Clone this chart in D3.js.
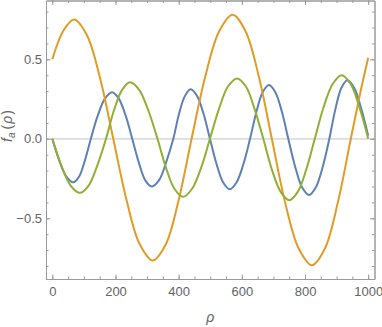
<!DOCTYPE html>
<html>
<head>
<meta charset="utf-8">
<script src="https://cdn.jsdelivr.net/npm/d3@7"></script>
<style>
  body { margin: 0; background: #fff; }
  text { font-family: "Liberation Sans", sans-serif; }
</style>
</head>
<body>
<div id="chart"></div>
<script>
// values: [rho, f_a]
const blueSeries = [
  [0, 0], [22, -0.137], [44, -0.237], [66, -0.274], [85, -0.237], [103, -0.137], [122, 0],
  [144, 0.147], [167, 0.254], [189, 0.293], [210, 0.254], [232, 0.147], [253, 0],
  [274, -0.15], [294, -0.26], [315, -0.30], [338, -0.26], [360, -0.15], [383, 0],
  [401, 0.156], [420, 0.27], [438, 0.311], [458, 0.27], [479, 0.156], [499, 0],
  [520, -0.159], [541, -0.275], [562, -0.318], [583, -0.275], [605, -0.159], [626, 0],
  [646, 0.169], [666, 0.293], [686, 0.338], [706, 0.293], [727, 0.169], [747, 0],
  [769, -0.177], [791, -0.307], [813, -0.354], [834, -0.307], [856, -0.177], [877, 0],
  [896, 0.185], [915, 0.32], [934, 0.369], [956, 0.32], [978, 0.19], [1000, 0.02]
];

const orangeSeries = [
  [0, 0.5], [35, 0.68], [69, 0.75], [110, 0.65], [152, 0.375], [193, 0],
  [235, -0.385], [276, -0.66], [318, -0.765], [359, -0.665], [400, -0.385], [441, 0],
  [484, 0.39], [528, 0.675], [571, 0.78], [612, 0.675], [654, 0.39], [695, 0],
  [737, -0.4], [780, -0.69], [822, -0.795], [863, -0.69], [904, -0.4], [945, 0],
  [975, 0.29], [1000, 0.51]
];

const greenSeries = [
  [0, 0], [29, -0.17], [58, -0.294], [87, -0.34], [115, -0.294], [142, -0.17], [170, 0],
  [195, 0.178], [221, 0.308], [246, 0.356], [275, 0.308], [304, 0.178], [333, 0],
  [360, -0.183], [387, -0.316], [414, -0.365], [442, -0.316], [471, -0.183], [499, 0],
  [528, 0.19], [556, 0.329], [585, 0.38], [613, 0.329], [640, 0.19], [668, 0],
  [695, -0.193], [723, -0.334], [750, -0.386], [777, -0.334], [804, -0.193], [831, 0],
  [859, 0.2], [888, 0.346], [916, 0.40], [944, 0.346], [972, 0.2], [1000, 0]
];

const xTicks = [0, 200, 400, 600, 800, 1000];
const yTicks = [-0.5, 0, 0.5];
const xMinorTicks = d3.range(0, 1001, 50);
const yMinorTicks = [-0.8, -0.7, -0.6, -0.5, -0.4, -0.3, -0.2, -0.1, 0, 0.1, 0.2, 0.3, 0.4, 0.5, 0.6, 0.7, 0.8];

function buildPlot() {
    let dimensions = {
        width: 382,
        height: 327,
        margin: { top: 0.5, right: 7.5, bottom: 48, left: 46 }
    };
    dimensions.boundedWidth = dimensions.width - dimensions.margin.left - dimensions.margin.right;
    dimensions.boundedHeight = dimensions.height - dimensions.margin.top - dimensions.margin.bottom;

    const svg = d3.select("#chart")
        .append("svg")
        .attr("width", dimensions.width)
        .attr("height", dimensions.height);

    const g = svg.append("g")
        .attr("transform", "translate(" + dimensions.margin.left + "," + dimensions.margin.top + ")");

    const x = d3.scaleLinear()
        .domain([-20, 1020])
        .range([0, dimensions.boundedWidth]);

    const y = d3.scaleLinear()
        .domain([-0.882, 0.87])
        .range([dimensions.boundedHeight, 0]);

    const frameColor = "#9a9a9a";
    const labelColor = "#646464";

    // zero line
    g.append("line")
        .attr("x1", 0).attr("x2", dimensions.boundedWidth)
        .attr("y1", y(0)).attr("y2", y(0))
        .attr("stroke", "#d0d0d0")
        .attr("stroke-width", 1.2);

    // curves
    const line = d3.line()
        .x(d => x(d[0]))
        .y(d => y(d[1]))
        .curve(d3.curveCatmullRom.alpha(0.5));

    const series = [
        { data: blueSeries, color: "#5e81b5" },
        { data: orangeSeries, color: "#e19c24" },
        { data: greenSeries, color: "#8fb032" }
    ];
    series.forEach(s => {
        g.append("path")
            .datum(s.data)
            .attr("fill", "none")
            .attr("stroke", s.color)
            .attr("stroke-width", 2)
            .attr("stroke-linejoin", "round")
            .attr("d", line);
    });

    function styleAxis(sel) {
        sel.select(".domain").attr("stroke", frameColor);
        sel.selectAll(".tick line").attr("stroke", frameColor);
        sel.selectAll(".tick text")
            .attr("fill", labelColor)
            .style("font-size", "13px");
    }

    // bottom
    g.append("g")
        .attr("transform", "translate(0," + dimensions.boundedHeight + ")")
        .call(d3.axisBottom(x).tickValues(xMinorTicks).tickSize(-2.5).tickSizeOuter(0).tickFormat(""))
        .call(styleAxis);
    g.append("g")
        .attr("transform", "translate(0," + dimensions.boundedHeight + ")")
        .call(d3.axisBottom(x).tickValues(xTicks).tickSize(-4.5).tickSizeOuter(0).tickPadding(8).tickFormat(d3.format("d")))
        .call(styleAxis);

    // top
    g.append("g")
        .call(d3.axisTop(x).tickValues(xMinorTicks).tickSize(-2.5).tickSizeOuter(0).tickFormat(""))
        .call(styleAxis);
    g.append("g")
        .call(d3.axisTop(x).tickValues(xTicks).tickSize(-4.5).tickSizeOuter(0).tickFormat(""))
        .call(styleAxis);

    // left
    g.append("g")
        .call(d3.axisLeft(y).tickValues(yMinorTicks).tickSize(-2.5).tickSizeOuter(0).tickFormat(""))
        .call(styleAxis);
    g.append("g")
        .call(d3.axisLeft(y).tickValues(yTicks).tickSize(-4.5).tickSizeOuter(0).tickPadding(4).tickFormat(d3.format(".1f")))
        .call(styleAxis);

    // right
    g.append("g")
        .attr("transform", "translate(" + dimensions.boundedWidth + ",0)")
        .call(d3.axisRight(y).tickValues(yMinorTicks).tickSize(-2.5).tickSizeOuter(0).tickFormat(""))
        .call(styleAxis);
    g.append("g")
        .attr("transform", "translate(" + dimensions.boundedWidth + ",0)")
        .call(d3.axisRight(y).tickValues(yTicks).tickSize(-4.5).tickSizeOuter(0).tickFormat(""))
        .call(styleAxis);

    // axis labels
    svg.append("text")
        .attr("x", dimensions.margin.left + x(500))
        .attr("y", 322)
        .attr("text-anchor", "middle")
        .attr("fill", labelColor)
        .style("font-size", "14px")
        .style("font-style", "italic")
        .text("ρ");

    const yLabel = svg.append("text")
        .attr("transform", "translate(12," + 126 + ") rotate(-90)")
        .attr("text-anchor", "middle")
        .attr("fill", labelColor)
        .style("font-size", "14px")
        .style("font-style", "italic");
    yLabel.append("tspan").text("f");
    yLabel.append("tspan").attr("dy", 3).style("font-size", "10px").text("a");
    yLabel.append("tspan").attr("dy", -3).attr("dx", 3).style("font-style", "normal").text("(");
    yLabel.append("tspan").attr("dx", 1).text("ρ");
    yLabel.append("tspan").attr("dx", 1).style("font-style", "normal").text(")");
}

buildPlot();
</script>
</body>
</html>
